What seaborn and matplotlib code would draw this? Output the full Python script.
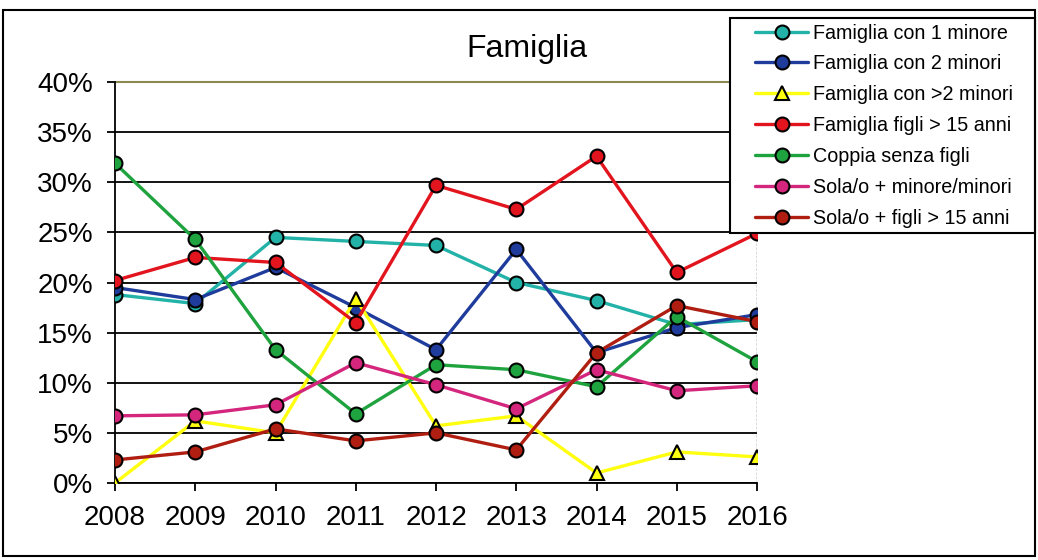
import pandas as pd
import matplotlib.pyplot as plt
import seaborn as sns
from matplotlib.patches import Rectangle
from matplotlib.ticker import PercentFormatter

anni = [2008, 2009, 2010, 2011, 2012, 2013, 2014, 2015, 2016]

serie = ['Famiglia con 1 minore', 'Famiglia con 2 minori', 'Famiglia con >2 minori',
         'Famiglia figli > 15 anni', 'Coppia senza figli', 'Sola/o + minore/minori',
         'Sola/o + figli > 15 anni']

con_1_minore = [18.8, 17.9, 24.5, 24.1, 23.7, 20.0, 18.2, 15.8, 16.3]
con_2_minori = [19.5, 18.3, 21.5, 17.5, 13.3, 23.3, 13.0, 15.5, 16.8]
con_piu_minori = [0.0, 6.2, 5.0, 18.4, 5.7, 6.7, 1.0, 3.1, 2.6]
figli_15 = [20.2, 22.5, 22.0, 16.0, 29.7, 27.3, 32.6, 21.0, 24.9]
coppia = [31.9, 24.3, 13.3, 6.9, 11.8, 11.3, 9.6, 16.6, 12.1]
sola_minori = [6.7, 6.8, 7.8, 12.0, 9.8, 7.4, 11.3, 9.2, 9.7]
sola_figli_15 = [2.3, 3.1, 5.4, 4.2, 5.0, 3.3, 13.0, 17.7, 16.1]

valori = [con_1_minore, con_2_minori, con_piu_minori, figli_15, coppia, sola_minori, sola_figli_15]
colori = ['#22b2a8', '#1f3c9c', '#ffff10', '#e2141e', '#1fa33e', '#d4267c', '#b01e12']
marker = ['o', 'o', '^', 'o', 'o', 'o', 'o']

df = pd.DataFrame({
    'Anno': anni * len(serie),
    'Valore': [v for vals in valori for v in vals],
    'Serie': [s for s in serie for _ in anni],
})

sns.set_style('white')
plt.rcParams['font.family'] = ['Liberation Sans', 'DejaVu Sans']
plt.rcParams['text.color'] = 'black'

fig = plt.figure(figsize=(10.38, 5.6), dpi=100)
ax = fig.add_axes([0.1108, 0.1375, 0.6185, 0.716])

for s, c, m in zip(serie, colori, marker):
    sub = df[df['Serie'] == s]
    sns.lineplot(data=sub, x='Anno', y='Valore', ax=ax, color=c, marker=m,
                 markersize=10 if m == 'o' else 10.5, markeredgecolor='black',
                 markeredgewidth=1.5, linewidth=2.4, label=s, zorder=3)

ax.set_xlim(2008, 2016)
ax.set_ylim(0, 40)
ax.set_xticks(anni)
ax.set_yticks(range(0, 41, 5))
ax.yaxis.set_major_formatter(PercentFormatter(decimals=0))
ax.set_xlabel('')
ax.set_ylabel('')
ax.grid(axis='y', color='black', linewidth=1.3)
ax.grid(axis='x', visible=False)
ax.axhline(40, color='#8a8a50', linewidth=1.5, zorder=2, clip_on=False)
for sp in ['top', 'right']:
    ax.spines[sp].set_visible(False)
ax.spines['left'].set_color('black')
ax.spines['bottom'].set_color('black')
ax.spines['left'].set_linewidth(1.3)
ax.spines['bottom'].set_linewidth(1.3)
ax.axvline(2016, color='#555555', linewidth=1, linestyle=(0, (2, 1)))
ax.tick_params(axis='both', labelsize=20, colors='black', length=6, width=1.3,
               direction='out', bottom=True, left=True)
ax.tick_params(axis='y', pad=10)
ax.tick_params(axis='x', pad=10)
ax.get_legend().remove()

ax.set_title('Famiglia', fontsize=23, pad=18, x=0.642, color='black')

handles, labels = ax.get_legend_handles_labels()
leg = fig.legend(handles, labels, loc='upper left', bbox_to_anchor=(0.7274, 0.958),
                 fontsize=14.2, frameon=False, labelspacing=0.6, handlelength=2.7,
                 handletextpad=0.25, borderpad=0, borderaxespad=0)
for t in leg.get_texts():
    t.set_color('black')
fig.patches.append(Rectangle((730 / 1038, 1 - 233 / 560), 305 / 1038, 215 / 560,
                             transform=fig.transFigure, facecolor='white',
                             edgecolor='black', linewidth=1.5, zorder=0.5))

fig.patches.append(Rectangle((0.003, 0.008), 0.994, 0.974, transform=fig.transFigure,
                             fill=False, edgecolor='black', linewidth=1.5))

fig.savefig('out.png', dpi=100)
